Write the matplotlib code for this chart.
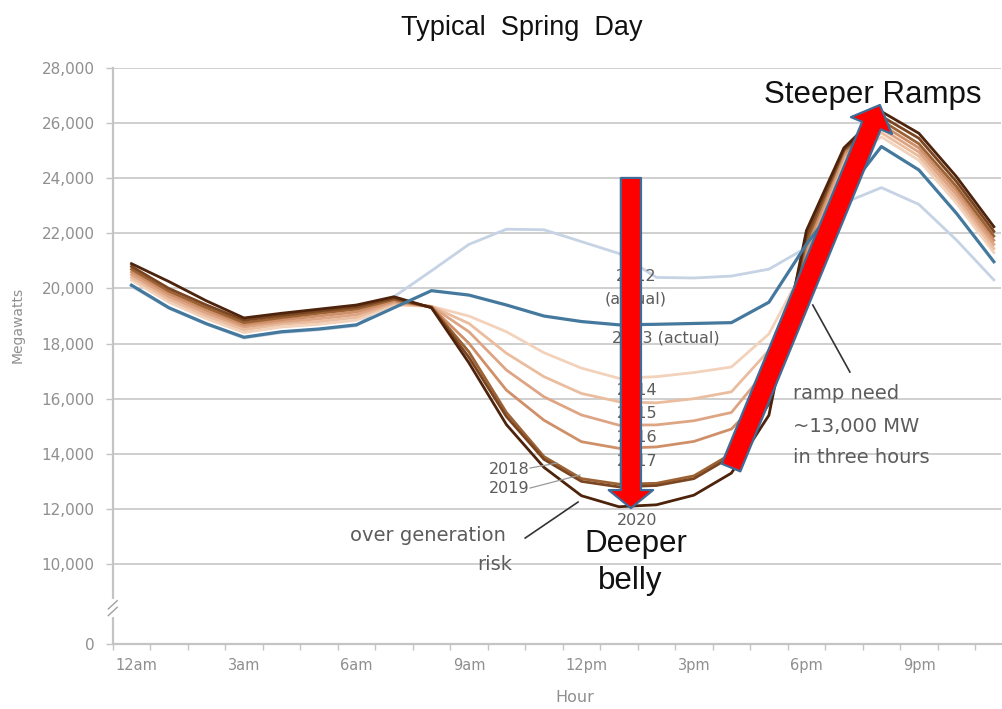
import matplotlib
matplotlib.use('Agg')
import matplotlib.pyplot as plt
import matplotlib.transforms as mtransforms

# ---------------- data ----------------
hour_index = list(range(24))          # hour of day, drawn at the centre of each hour
x_tick_hours = [0, 3, 6, 9, 12, 15, 18, 21]
x_tick_labels = ['12am', '3am', '6am', '9am', '12pm', '3pm', '6pm', '9pm']
y_tick_values = [10000, 12000, 14000, 16000, 18000, 20000, 22000, 24000, 26000, 28000]
y_tick_labels = ['10,000', '12,000', '14,000', '16,000', '18,000', '20,000',
                 '22,000', '24,000', '26,000', '28,000']
y_zero_label = '0'

years = ['2012', '2013', '2014', '2015', '2016', '2017', '2018', '2019', '2020']

load_2012 = [20080, 19280, 18700, 18200, 18400, 18500, 18650, 19700, 20640, 21600, 22150, 22130,
             21700, 21270, 20400, 20380, 20450, 20700, 21480, 23100, 23660, 23050, 21760, 20310]
load_2013 = [20120, 19300, 18720, 18230, 18430, 18530, 18680, 19300, 19920, 19760, 19400, 19000,
             18800, 18680, 18700, 18730, 18760, 19500, 21600, 23400, 25150, 24300, 22730, 20970]
load_2014 = [20300, 19500, 18900, 18400, 18600, 18700, 18850, 19400, 19350, 19000, 18430, 17670,
             17110, 16740, 16800, 16950, 17150, 18350, 20900, 24600, 25500, 24650, 23100, 21300]
load_2015 = [20400, 19600, 19000, 18500, 18700, 18800, 18950, 19450, 19350, 18730, 17650, 16800,
             16190, 15890, 15850, 16000, 16250, 17750, 21100, 24700, 25650, 24800, 23250, 21450]
load_2016 = [20500, 19700, 19100, 18600, 18780, 18900, 19050, 19500, 19350, 18430, 17040, 16070,
             15410, 15040, 15050, 15200, 15500, 17150, 21300, 24800, 25800, 24950, 23400, 21600]
load_2017 = [20600, 19800, 19200, 18680, 18860, 19000, 19150, 19550, 19330, 18010, 16310, 15220,
             14440, 14200, 14250, 14450, 14900, 16300, 21500, 24900, 25950, 25100, 23550, 21750]
load_2018 = [20700, 19900, 19300, 18760, 18940, 19100, 19250, 19600, 19320, 17700, 15500, 13900,
             13100, 12900, 12930, 13200, 14000, 16000, 21700, 25000, 26100, 25250, 23700, 21900]
load_2019 = [20800, 20000, 19400, 18850, 19020, 19180, 19330, 19650, 19310, 17500, 15350, 13800,
             13000, 12800, 12850, 13100, 13900, 15800, 21900, 25050, 26250, 25450, 23880, 22070]
load_2020 = [20900, 20250, 19550, 18930, 19100, 19250, 19400, 19700, 19300, 17300, 15060, 13510,
             12480, 12080, 12150, 12500, 13300, 15400, 22100, 25100, 26420, 25630, 24060, 22240]

# ---------------- style ----------------
Y_BOTTOM = 7100      # broken axis: this level is labelled "0"
colors = {
    '2012': '#c5d3e4', '2013': '#44789d',
    '2014': '#f3d2bc', '2015': '#ebbd9f', '2016': '#dea585', '2017': '#cf9069',
    '2018': '#9c6234', '2019': '#7a4520', '2020': '#4e230c',
}
widths = {'2012': 2.0, '2013': 2.3, '2014': 2.0, '2015': 2.0, '2016': 2.0, '2017': 2.0,
          '2018': 2.0, '2019': 2.0, '2020': 2.0}
series = dict(zip(years, [load_2012, load_2013, load_2014, load_2015, load_2016,
                          load_2017, load_2018, load_2019, load_2020]))
draw_order = ['2012', '2014', '2015', '2016', '2017', '2018', '2019', '2020', '2013']

GRID = '#cfcfcf'
TICKTXT = '#8f8f8f'
ANNO = '#5c5c5c'

fig = plt.figure(figsize=(10.02, 7.09), dpi=100)
ax = fig.add_axes([0.1125, 0.0917, 0.8865, 0.8124])

xs = [h + 0.5 for h in hour_index]
for i, yr in enumerate(draw_order):
    ax.plot(xs, series[yr], color=colors[yr], lw=widths[yr], zorder=3 + i,
            solid_joinstyle='round')

ax.set_xlim(0, 23.69)
ax.set_ylim(Y_BOTTOM, 28000)

# grid
for v in y_tick_values:
    ax.axhline(v, color=GRID, lw=1.4, zorder=1)

for side in ['top', 'right']:
    ax.spines[side].set_visible(False)
for side in ['left', 'bottom']:
    ax.spines[side].set_color('#c4c4c4')
    ax.spines[side].set_linewidth(1.6)

ax.set_yticks([Y_BOTTOM] + y_tick_values)
ax.set_yticklabels([y_zero_label] + y_tick_labels)
ax.set_xticks(x_tick_hours)
ax.set_xticklabels(x_tick_labels)
ax.set_xticks(hour_index, minor=True)
ax.tick_params(axis='y', colors='#c4c4c4', labelcolor=TICKTXT, labelsize=11,
               length=5, width=1, pad=8)
ax.tick_params(axis='x', which='both', colors='#c4c4c4', labelcolor=TICKTXT,
               labelsize=10.5, length=4, width=1, pad=6)
offset = mtransforms.ScaledTranslation(2 / 72, 0, fig.dpi_scale_trans)
for lab in ax.get_xticklabels():
    lab.set_ha('left')
    lab.set_transform(lab.get_transform() + offset)

# axis break mark
brk = mtransforms.blended_transform_factory(ax.transAxes, ax.transData)
ax.plot([0, 0], [8150, 8650], color='white', lw=3, transform=brk, clip_on=False, zorder=20)
for dy in (-120, 120):
    ax.plot([-0.005, 0.005], [8250 + dy, 8550 + dy], color='#a0a0a0', lw=1,
            transform=brk, clip_on=False, zorder=21)

# labels
fig.text(0.5210, 1 - 28 / 709, 'Typical  Spring  Day', ha='center', va='center',
         fontsize=19.5, family='Liberation Sans', color='#111111')
fig.text(18 / 1002, 1 - 325 / 709, 'Megawatts', rotation=90, ha='center', va='center',
         fontsize=10, color=TICKTXT)
fig.text(575 / 1002, 1 - 698 / 709, 'Hour', ha='center', va='center',
         fontsize=11.5, color=TICKTXT)

# year annotations
def note(x, y, s, size=11, ha='center'):
    ax.text(x, y, s, ha=ha, va='center', fontsize=size, color=ANNO, zorder=15)

note(13.95, 20452, '2012', size=11.5)
note(13.95, 19617, '(actual)', size=11.5)
note(14.75, 18202, '2013 (actual)', size=11.5)
note(13.98, 16315, '2014', size=11.5)
note(13.98, 15480, '2015', size=11.5)
note(13.98, 14609, '2016', size=11.5)
note(13.98, 13738, '2017', size=11.5)
note(13.98, 11597, '2020', size=11.5)
note(10.57, 13448, '2018', size=11.5)
note(10.57, 12758, '2019', size=11.5)
note(8.41, 11053, 'over generation', size=14)
note(10.19, 9999, 'risk', size=14)
note(18.14, 16206, 'ramp need', size=14, ha='left')
note(18.14, 15008, '~13,000 MW', size=14, ha='left')
note(18.14, 13883, 'in three hours', size=14, ha='left')

# leader lines
for (x0, y0, x1, y1, c, w) in [(11.13, 13484, 11.85, 13665, '#9a9a9a', 0.9),
                               (11.13, 12758, 12.46, 13230, '#9a9a9a', 0.9),
                               (11.00, 10944, 12.41, 12250, '#333333', 1.2),
                               (18.67, 19399, 19.66, 16968, '#333333', 1.2)]:
    ax.plot([x0, x1], [y0, y1], color=c, lw=w, zorder=14)

# big arrows
ax.annotate('', xy=(13.82, 12030), xytext=(13.82, 24010),
            arrowprops=dict(arrowstyle='simple,head_length=13,head_width=32,tail_width=14.5',
                            mutation_scale=1, fc='#ff0000', ec='#3f6c97', lw=1.6,
                            shrinkA=0, shrinkB=0), zorder=30)
ax.annotate('', xy=(20.46, 26657), xytext=(16.49, 13502),
            arrowprops=dict(arrowstyle='simple,head_length=16,head_width=32,tail_width=14.5',
                            mutation_scale=1, fc='#ff0000', ec='#3f6c97', lw=1.6,
                            shrinkA=0, shrinkB=0), zorder=30)

ax.text(20.27, 27020, 'Steeper Ramps', ha='center', va='center', fontsize=22.5,
        family='Liberation Sans', color='#111111', zorder=31)
ax.text(13.95, 10726, 'Deeper', ha='center', va='center', fontsize=22.5,
        family='Liberation Sans', color='#111111', zorder=31)
ax.text(13.80, 9384, 'belly', ha='center', va='center', fontsize=22.5,
        family='Liberation Sans', color='#111111', zorder=31)

fig.savefig('out.png', dpi=100)
